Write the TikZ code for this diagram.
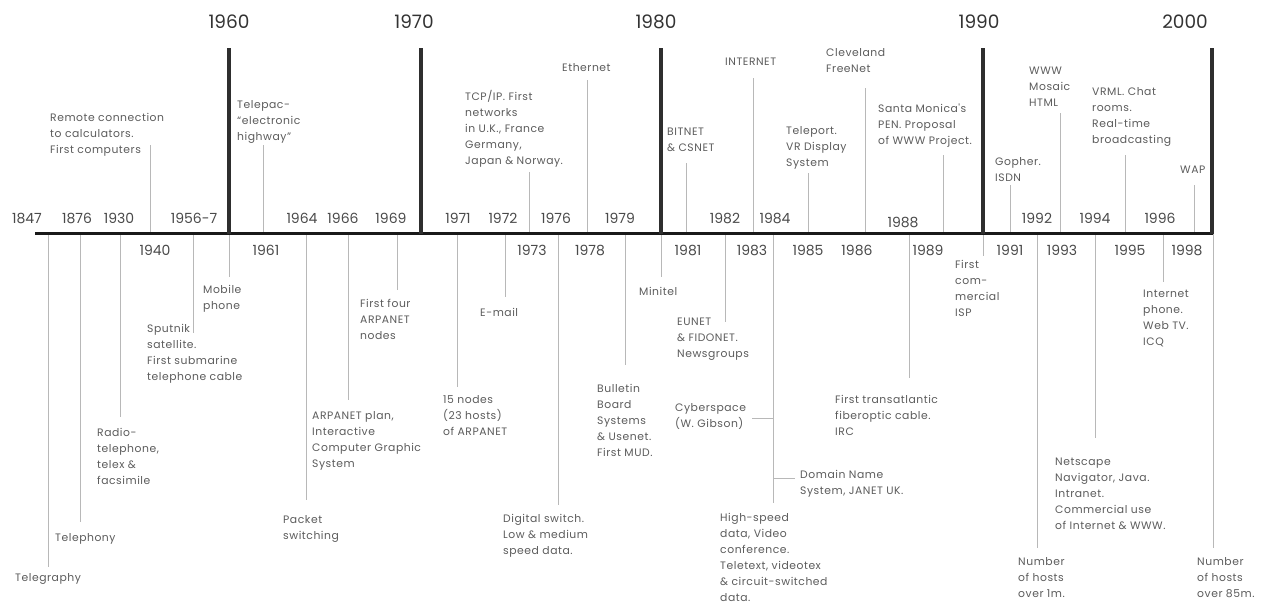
\documentclass[tikz,border=0pt]{standalone}
\usepackage{fontspec}
\setmainfont{Poppins}
\newfontfamily\lblfont{Poppins}[LetterSpace=5]
\definecolor{txt}{HTML}{5C5C5C}
\definecolor{yrc}{HTML}{4A4A4A}
\definecolor{decc}{HTML}{333333}
\definecolor{leadc}{HTML}{B8B8B8}
\definecolor{barc}{HTML}{2E2E2E}
\tikzset{
  lead/.style={draw=leadc, line width=0.8pt},
  lbl/.style={anchor=north west, inner sep=0pt, align=left, text=txt, font=\lblfont\fontsize{10.8}{16}\selectfont},
  yr/.style={inner sep=0pt, text=yrc, font=\fontsize{14}{16}\selectfont},
  dec/.style={inner sep=0pt, text=decc, font=\fontsize{18.5}{20}\selectfont},
  bar/.style={draw=barc, line width=4pt},
  axisline/.style={draw=black!90, line width=3pt}
}
% name, line x, line end y, label x, first-line centre y, text
\newcommand\ev[6]{%
  \coordinate (#1a) at (#2,233);
  \coordinate (#1b) at (#2,#3);
  \node[lbl] (#1) at (#4,{#5-5}) {#6};
  \draw[lead] (#1a) -- (#1b);
}
\begin{document}
\begin{tikzpicture}[x=1pt,y=-1pt]
\useasboundingbox[fill=white] (0,0) rectangle (1266,603);

% ---- events below the axis
\ev{telegraphy}{48}{567}{15}{578}{Telegraphy}
\ev{telephony}{80}{522}{55}{538}{Telephony}
\ev{radio}{120}{417}{97}{433}{Radio-\\telephone,\\telex \&\\facsimile}
\ev{sputnik}{193}{333}{147}{329}{Sputnik\\satellite.\\First submarine\\telephone cable}
\ev{mobile}{229}{277}{203}{290}{Mobile\\phone}
\ev{packet}{306}{500}{283}{520}{Packet\\switching}
\ev{arpaplan}{348}{400}{312}{416}{ARPANET plan,\\Interactive\\Computer Graphic\\System}
\ev{firstfour}{397}{290}{360}{304}{First four\\ARPANET\\nodes}
\ev{fifteen}{457}{387}{443}{400}{15 nodes\\(23 hosts)\\of ARPANET}
\ev{email}{505}{297}{480}{313}{E-mail}
\ev{digital}{558}{505}{503}{519}{Digital switch.\\Low \& medium\\speed data.}
\ev{bbs}{625}{365}{597}{389}{Bulletin\\Board\\Systems\\\& Usenet.\\First MUD.}
\ev{minitel}{661}{277}{639}{292}{Minitel}
\ev{eunet}{725}{322}{677}{323}{EUNET\\\& FIDONET.\\Newsgroups}
\ev{highspeed}{773}{503}{720}{518}{High-speed\\data, Video\\conference.\\Teletext, videotex\\\& circuit-switched\\data.}
\ev{transatl}{909}{378}{835}{400}{First transatlantic\\fiberoptic cable.\\IRC}
\ev{isp}{983}{256}{955}{265}{First\\com-\\mercial\\ISP}
\ev{hostsa}{1037}{548}{1018}{562}{Number\\of hosts\\over 1m.}
\ev{netscape}{1095}{438}{1055}{463}{Netscape\\Navigator, Java.\\Intranet.\\Commercial use\\of Internet \& WWW.}
\ev{iphone}{1163}{282}{1143}{295}{Internet\\phone.\\Web TV.\\ICQ}
\ev{hostsb}{1213}{548}{1197}{562}{Number\\of hosts\\over 85m.}

% branches of the 1983/84 line
\coordinate (cyba) at (773,418);
\coordinate (cybb) at (752,418);
\node[lbl] (cyber) at (675,403) {Cyberspace\\(W. Gibson)};
\draw[lead] (cyba) -- (cybb);
\coordinate (dnsa) at (773,478);
\coordinate (dnsb) at (795,478);
\node[lbl] (dns) at (800,470) {Domain Name\\System, JANET UK.};
\draw[lead] (dnsa) -- (dnsb);

% ---- events above the axis
\ev{remote}{150}{145}{50}{118}{Remote connection\\to calculators.\\First computers}
\ev{telepac}{263}{145}{237}{105}{Telepac-\\“electronic\\highway”}
\ev{tcpip}{529}{172}{465}{95}{TCP/IP. First\\networks\\in U.K., France\\Germany,\\Japan \& Norway.}
\ev{ethernet}{587}{80}{562}{68}{Ethernet}
\ev{bitnet}{686}{163}{667}{133}{BITNET\\\& CSNET}
\ev{internet}{753}{78}{725}{63}{INTERNET}
\ev{teleport}{808}{173}{786}{131}{Teleport.\\VR Display\\System}
\ev{cleveland}{865}{88}{826}{53}{Cleveland\\FreeNet}
\ev{santa}{943}{155}{878}{109}{Santa Monica's\\PEN. Proposal\\of WWW Project.}
\ev{gopher}{1010}{185}{995}{162}{Gopher.\\ISDN}
\ev{www}{1060}{113}{1029}{72}{WWW\\Mosaic\\HTML}
\ev{vrml}{1125}{155}{1092}{92}{VRML. Chat\\rooms.\\Real-time\\broadcasting}
\ev{wap}{1194}{185}{1180}{171}{WAP}

% ---- axis and decade bars
\coordinate (axL) at (35,233);
\coordinate (axR) at (1213,233);
\draw[axisline] (axL) -- (axR);
\foreach \n/\x/\lx in {1960/229/229, 1970/421/414, 1980/661/656, 1990/983/979, 2000/1212/1185}{
  \coordinate (bar\n b) at (\x,233.5);
  \coordinate (bar\n t) at (\x,48);
  \draw[bar] (bar\n b) -- (bar\n t);
  \node[dec] (d\n) at (\lx,22) {\n};
}

% ---- year labels above the axis
\foreach \y/\x in {1847/27, 1876/77, 1930/119, 1956-7/194, 1964/302, 1966/343, 1969/391,
  1971/458, 1972/503, 1976/556, 1979/620, 1982/725, 1984/775, 1992/1037, 1994/1095, 1996/1160}{
  \node[yr] (ya\y) at (\x,218) {\y};
}
\node[yr] (ya1988) at (903,222) {1988};
% ---- year labels below the axis
\foreach \y/\x in {1940/155, 1961/266, 1973/532, 1978/590, 1981/688, 1983/752, 1985/808,
  1986/857, 1989/928, 1991/1010, 1993/1062, 1995/1130, 1998/1187}{
  \node[yr] (yb\y) at (\x,250) {\y};
}
\end{tikzpicture}
\end{document}
